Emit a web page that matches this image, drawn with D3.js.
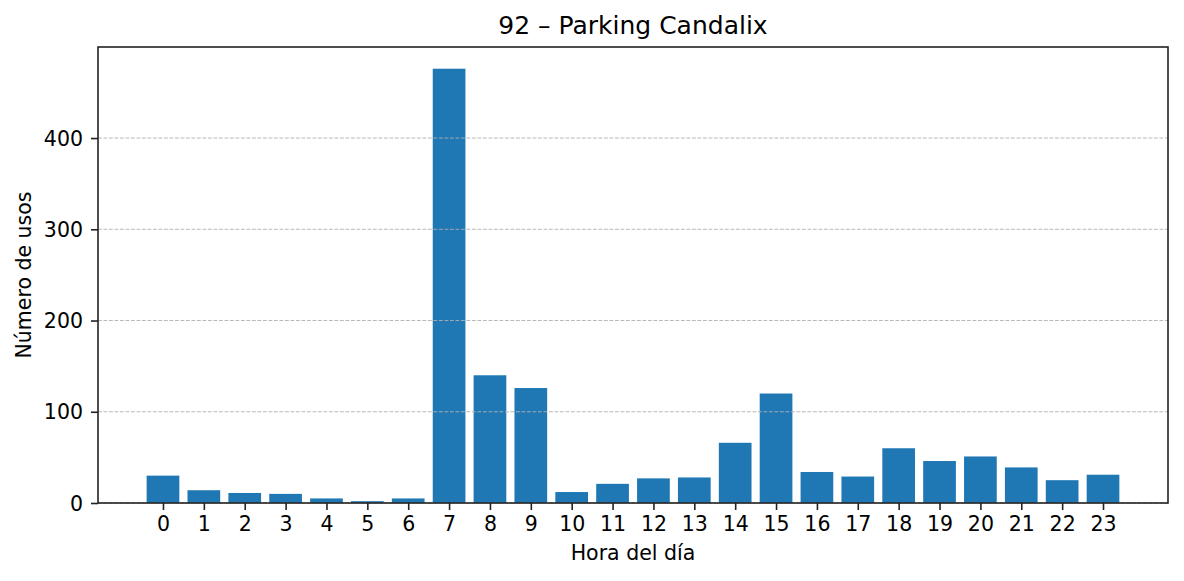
<!DOCTYPE html>
<html>
<head>
<meta charset="utf-8">
<script src="https://cdn.jsdelivr.net/npm/d3@7"></script>
<style>
  html, body { margin: 0; padding: 0; background: #fff; }
  svg { display: block; }
  text { font-family: "DejaVu Sans", sans-serif; fill: #000; }
</style>
</head>
<body>
<svg id="chart" width="1184" height="581"></svg>
<script>
const hours = [0,1,2,3,4,5,6,7,8,9,10,11,12,13,14,15,16,17,18,19,20,21,22,23];
const usos = [30,14,11,10,5,2,5,476,140,126,12,21,27,28,66,120,34,29,60,46,51,39,25,31];
const yTicks = [0,100,200,300,400];
const title = "92 – Parking Candalix";
const xLabel = "Hora del día";
const yLabel = "Número de usos";

const W = 1184, H = 581;
const m = {left: 98, right: 16, top: 47, bottom: 78};
const pw = W - m.left - m.right, ph = H - m.top - m.bottom;
const barW = 0.8;

const svg = d3.select("#chart");
const g = svg.append("g").attr("transform", `translate(${m.left},${m.top})`);

const xLo = d3.min(hours) - barW/2, xHi = d3.max(hours) + barW/2;
const xPad = 0.05 * (xHi - xLo);
const x = d3.scaleLinear().domain([xLo - xPad, xHi + xPad]).range([0, pw]);
const yMax = d3.max(usos) * 1.05;
const y = d3.scaleLinear().domain([0, yMax]).range([ph, 0]);

// bars
g.selectAll("rect.bar").data(usos).enter().append("rect")
  .attr("class", "bar")
  .attr("x", (d, i) => x(hours[i] - barW/2))
  .attr("width", (d, i) => x(hours[i] + barW/2) - x(hours[i] - barW/2))
  .attr("y", d => y(d))
  .attr("height", d => y(0) - y(d))
  .attr("fill", "#1f77b4");

// grid (drawn above bars)
g.selectAll("line.grid").data(yTicks).enter().append("line")
  .attr("x1", 0).attr("x2", pw)
  .attr("y1", d => y(d)).attr("y2", d => y(d))
  .attr("stroke", "#b0b0b0").attr("stroke-width", 0.9)
  .attr("stroke-dasharray", "3.8,1.7");

// axes
const xAxis = d3.axisBottom(x).tickValues(hours).tickFormat(d3.format("d"))
  .tickSize(7).tickPadding(6);
const yAxis = d3.axisLeft(y).tickValues(yTicks).tickFormat(d3.format("d"))
  .tickSize(7).tickPadding(8);

const gx = g.append("g").attr("transform", `translate(0,${ph})`).call(xAxis);
const gy = g.append("g").call(yAxis);
[gx, gy].forEach(a => {
  a.select(".domain").remove();
  a.selectAll(".tick line").attr("stroke", "#222").attr("stroke-width", 1.6);
  a.selectAll(".tick text").attr("font-size", "20.5px").attr("fill", "#000")
    .style("font-family", "'DejaVu Sans', sans-serif");
});
gy.selectAll(".tick text").attr("dy", "0.35em");

// frame
g.append("rect").attr("x", 0).attr("y", 0).attr("width", pw).attr("height", ph)
  .attr("fill", "none").attr("stroke", "#222").attr("stroke-width", 1.6);

// title and labels
svg.append("text").attr("x", m.left + pw/2).attr("y", 34)
  .attr("text-anchor", "middle").attr("font-size", "25px").text(title);
svg.append("text").attr("x", m.left + pw/2).attr("y", 560)
  .attr("text-anchor", "middle").attr("font-size", "20.5px").text(xLabel);
svg.append("text")
  .attr("transform", `translate(31,${m.top + ph/2}) rotate(-90)`)
  .attr("text-anchor", "middle").attr("font-size", "20.5px").text(yLabel);
</script>
</body>
</html>
